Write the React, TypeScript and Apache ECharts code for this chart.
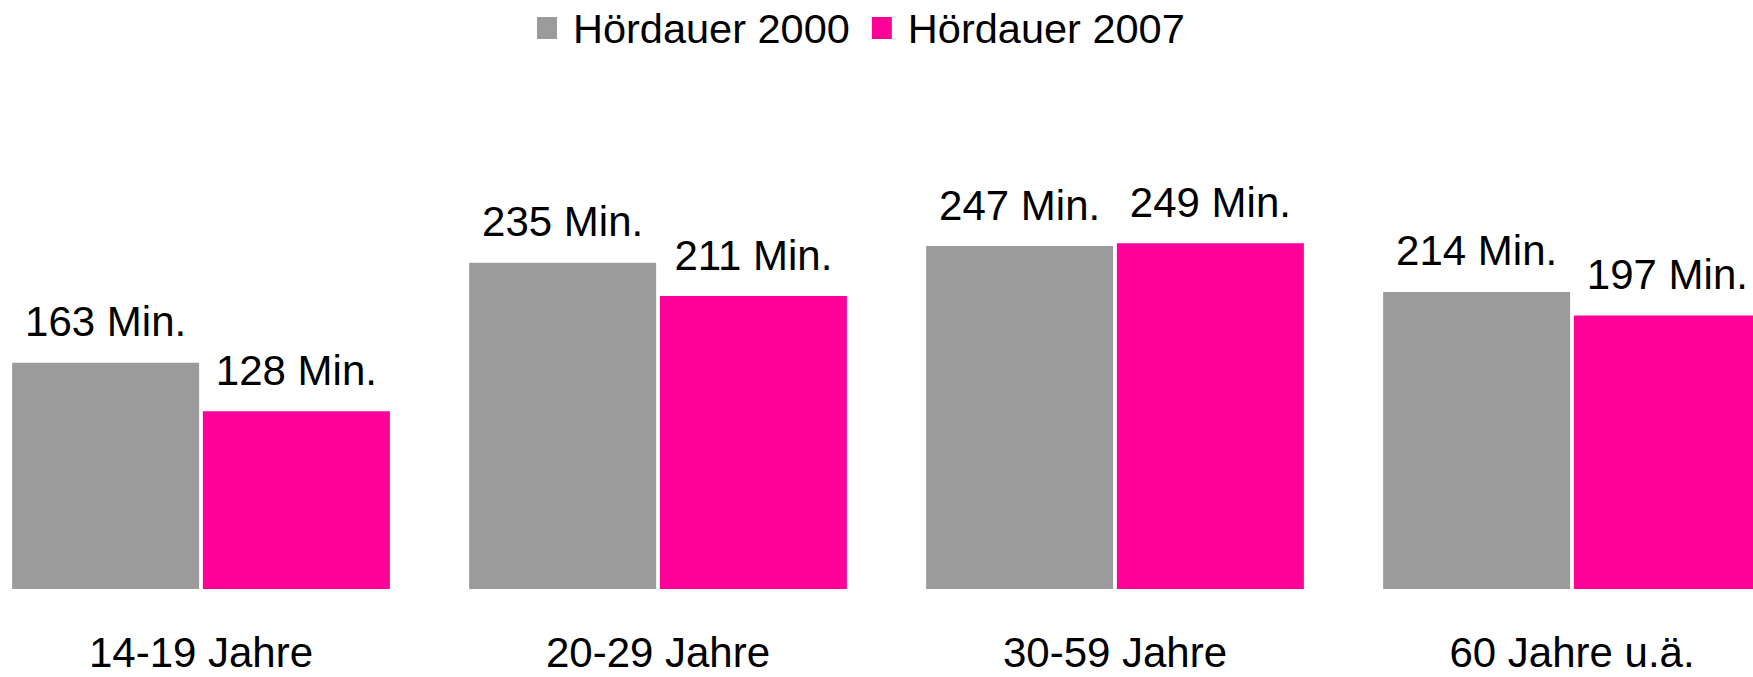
import React, { useEffect, useRef } from "react";
import * as echarts from "echarts";

const categories = ["14-19 Jahre", "20-29 Jahre", "30-59 Jahre", "60 Jahre u.ä."];
const series2000 = [163, 235, 247, 214];
const series2007 = [128, 211, 249, 197];
const seriesNames = ["Hördauer 2000", "Hördauer 2007"];

const FONT = "'Liberation Sans', Arial, Helvetica, sans-serif";
const SHIFT = 28;

export default function App() {
  const ref = useRef<HTMLDivElement>(null);
  useEffect(() => {
    if (!ref.current) return;
    const chart = echarts.init(ref.current, undefined, { renderer: "svg" });
    const label = {
      show: true,
      position: "top",
      distance: 20,
      color: "#000",
      fontSize: 42,
      fontFamily: FONT,
      formatter: (p: any) => `${p.value} Min.`,
    };
    chart.setOption({
      animation: false,
      backgroundColor: "#fff",
      textStyle: { fontFamily: FONT },
      legend: {
        left: 532 + SHIFT,
        top: 2,
        itemWidth: 20,
        itemHeight: 22,
        itemGap: 22,
        icon: "rect",
        textStyle: { fontSize: 41.5, color: "#000", fontFamily: FONT, padding: [0, 0, 0, 11] },
        data: seriesNames,
      },
      grid: { left: SHIFT - 27.5, width: 1828, top: 172.5, bottom: 88, containLabel: false },
      xAxis: {
        type: "category",
        data: categories,
        axisLine: { show: false },
        axisTick: { show: false },
        axisLabel: { margin: 45, fontSize: 42, lineHeight: 36, color: "#000", fontFamily: FONT },
      },
      yAxis: {
        type: "value",
        min: 0,
        max: 300,
        show: false,
        splitLine: { show: false },
      },
      series: [
        {
          name: seriesNames[0],
          type: "bar",
          data: series2000,
          barWidth: 187,
          barGap: "2%",
          itemStyle: { color: "#9B9B9B" },
          label,
        },
        {
          name: seriesNames[1],
          type: "bar",
          data: series2007,
          barWidth: 187,
          barGap: "2%",
          itemStyle: { color: "#FF0099" },
          label,
        },
      ],
    });
    return () => chart.dispose();
  }, []);
  return (
    <div
      ref={ref}
      style={{ position: "fixed", left: -SHIFT, top: 0, width: 1828 + SHIFT, height: 677 }}
    />
  );
}
